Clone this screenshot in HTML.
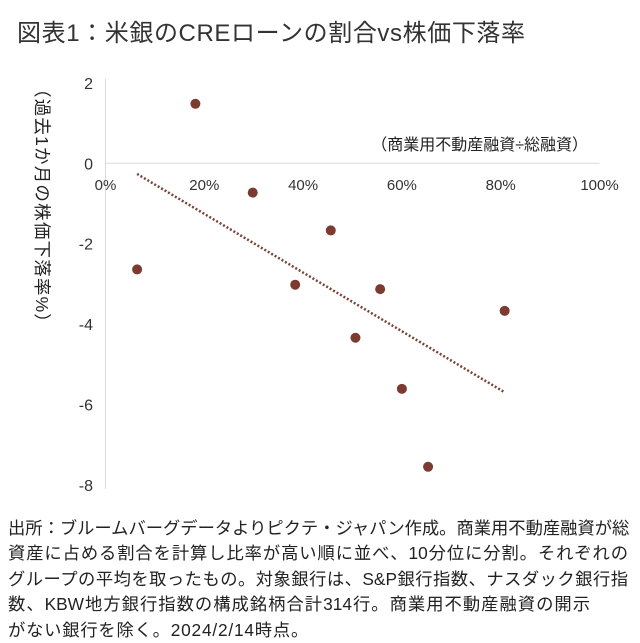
<!DOCTYPE html>
<html><head><meta charset="utf-8">
<style>
body{margin:0;background:#fff;width:640px;height:634px;overflow:hidden;font-family:"Liberation Sans","Noto Sans CJK JP",sans-serif;color:#222}
#title{position:absolute;left:17px;top:13px;font-size:24px;white-space:nowrap;color:#333;letter-spacing:0.6px}
#foot{position:absolute;left:8px;top:516px;font-size:17.3px;line-height:25.4px;white-space:nowrap;color:#222}
#foot div{text-align:justify;text-align-last:justify;width:620px}
#foot div.l4{width:582px}
#foot div.l5{text-align-last:left;letter-spacing:0.8px}
svg{position:absolute;left:0;top:0}
</style></head><body>
<div id="title">図表1：米銀のCREローンの割合vs株価下落率</div>
<svg width="640" height="510" id="chart"></svg>
<div id="foot">
<div>出所：ブルームバーグデータよりピクテ・ジャパン作成。商業用不動産融資が総</div>
<div>資産に占める割合を計算し比率が高い順に並べ、10分位に分割。それぞれの</div>
<div>グループの平均を取ったもの。対象銀行は、S&amp;P銀行指数、ナスダック銀行指</div>
<div class="l4">数、KBW地方銀行指数の構成銘柄合計314行。商業用不動産融資の開示</div>
<div class="l5">がない銀行を除く。2024/2/14時点。</div>
</div>
<script>
const xVals=[6.4,18.2,29.8,45.6,38.4,55.6,50.6,80.8,60.0,65.3];
const yVals=[-2.64,1.48,-0.73,-1.67,-3.02,-3.13,-4.34,-3.67,-5.61,-7.55];
const xTicks=[0,20,40,60,80,100];
const yTicks=[2,0,-2,-4,-6,-8];
const NS="http://www.w3.org/2000/svg";
const svg=document.getElementById('chart');
const X=v=>105.5+v*4.94;
const Y=v=>163.3-v*40.2;
function mk(t,a){const e=document.createElementNS(NS,t);for(const k in a)e.setAttribute(k,a[k]);svg.appendChild(e);return e;}
let e;
e=mk('line',{x1:X(0),x2:X(0),y1:Y(2.1),y2:Y(-8.1),stroke:'#d9d9d9','stroke-width':1});


e=mk('line',{x1:X(0),x2:X(100),y1:Y(0),y2:Y(0),stroke:'#d9d9d9','stroke-width':1});


xTicks.forEach(t=>{const el=mk('text',{x:X(t),y:190,'text-anchor':'middle','font-size':'15','fill':'#333','font-family':'Liberation Sans, sans-serif'});el.textContent=t+'%';

});
yTicks.forEach(t=>{const el=mk('text',{x:93,y:Y(t)+6,'text-anchor':'end','font-size':'16','fill':'#333','font-family':'Liberation Sans, sans-serif'});el.textContent=t;

});
const n=xVals.length,mx=xVals.reduce((a,b)=>a+b)/n,my=yVals.reduce((a,b)=>a+b)/n;
let sxy=0,sxx=0;for(let i=0;i<n;i++){sxy+=(xVals[i]-mx)*(yVals[i]-my);sxx+=(xVals[i]-mx)**2;}
const sl=sxy/sxx,ic=my-sl*mx,x0=Math.min(...xVals),x1=Math.max(...xVals);
e=mk('line',{x1:X(x0),y1:Y(ic+sl*x0),x2:X(x1),y2:Y(ic+sl*x1),stroke:'#7a4236','stroke-width':2.5,'stroke-dasharray':'2 2'});


xVals.forEach((v,i)=>{const c=mk('circle',{cx:X(v),cy:Y(yVals[i]),r:5,fill:'#7b3b30'});

});
e=mk('text',{x:588,y:150,'text-anchor':'end','font-size':'16','fill':'#222','font-family':'Liberation Sans, Noto Sans CJK JP, sans-serif'});
e.textContent='（商業用不動産融資÷総融資）';


e=mk('text',{x:0,y:0,'font-size':'17.5','fill':'#222','letter-spacing':'1.2','font-family':'Liberation Sans, Noto Sans CJK JP, sans-serif',transform:'translate(36,80) rotate(90)'});
e.textContent='（過去1か月の株価下落率%）';


</script>
</body></html>
